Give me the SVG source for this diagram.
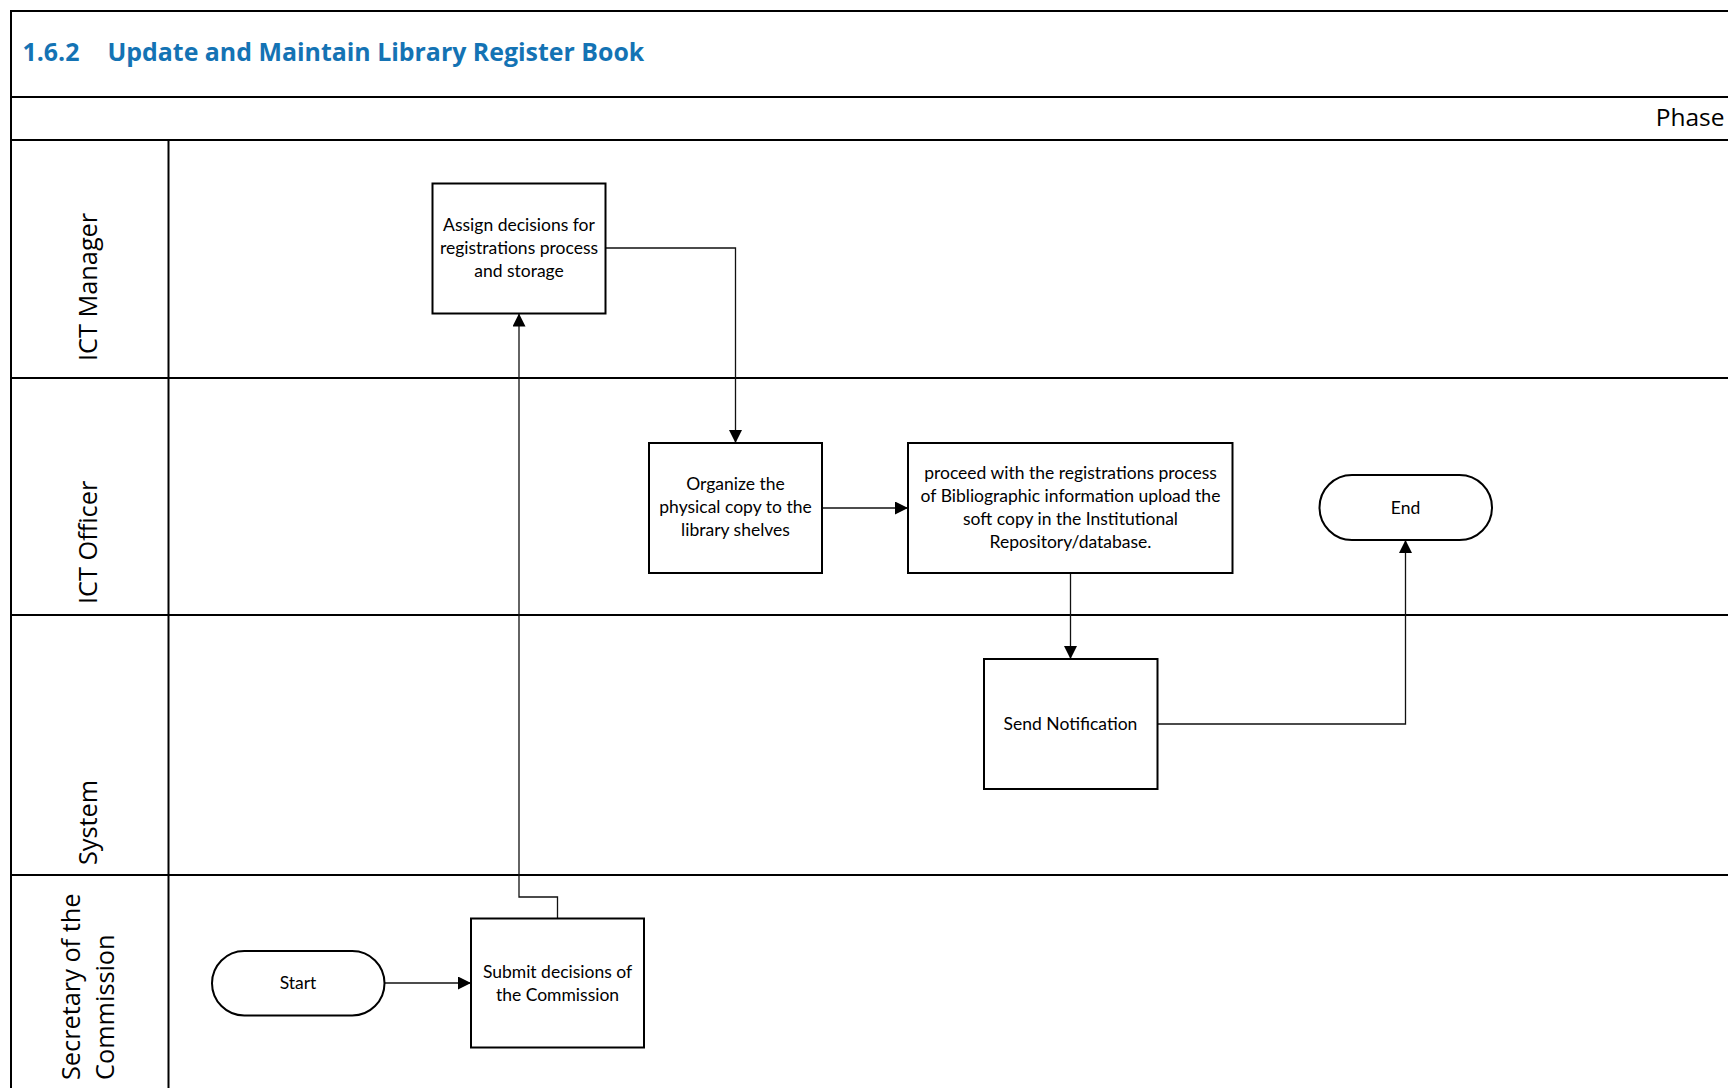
<svg xmlns="http://www.w3.org/2000/svg" width="1728" height="1088" viewBox="0 0 1728 1088">
  <style>
    .frame { stroke: #000; stroke-width: 2; fill: none; }
    .box { fill: #fff; stroke: #000; stroke-width: 2; }
    .node-text { font-family: Lato, "Open Sans", "Liberation Sans", sans-serif; font-size: 17.5px; fill: #000; text-anchor: middle; }
    .lane-text { font-family: "Open Sans", "Noto Sans", "Liberation Sans", sans-serif; font-size: 25.3px; fill: #000; }
    .title { font-family: "Open Sans", "Noto Sans", "Liberation Sans", sans-serif; font-size: 24.9px; font-weight: bold; fill: #1473B4; }
    .phase { font-family: "Open Sans", "Noto Sans", "Liberation Sans", sans-serif; font-size: 24.5px; fill: #000; text-anchor: end; }
    .conn { stroke: #111; stroke-width: 1.3; fill: none; marker-end: url(#arrow); }
  </style>
  <defs>
    <marker id="arrow" viewBox="0 0 13 13" refX="13" refY="6.5" markerWidth="13" markerHeight="13" markerUnits="userSpaceOnUse" orient="auto">
      <path d="M0,0 L13,6.5 L0,13 Z" fill="#000"/>
    </marker>
  </defs>

  <rect x="0" y="0" width="1728" height="1088" fill="#fff"/>

  <!-- Pool frame, title bar, phase bar and swimlanes -->
  <g id="frame">
    <path class="frame" d="M1728,11 H11 V1088"/>
    <path class="frame" d="M11,97 H1728"/>
    <path class="frame" d="M11,140 H1728"/>
    <path class="frame" d="M168.5,140 V1088"/>
    <path class="frame" d="M11,378 H1728"/>
    <path class="frame" d="M11,615 H1728"/>
    <path class="frame" d="M11,875 H1728"/>
    <text class="title" x="22.5" y="61">1.6.2</text>
    <text class="title" x="107.5" y="61">Update and Maintain Library Register Book</text>
    <text class="phase" x="1724.5" y="126">Phase</text>
  </g>

  <!-- Lane labels -->
  <g id="lane-ict-manager">
    <text class="lane-text" transform="translate(97,361) rotate(-90)">ICT Manager</text>
  </g>
  <g id="lane-ict-officer">
    <text class="lane-text" transform="translate(97,604) rotate(-90)">ICT Officer</text>
  </g>
  <g id="lane-system">
    <text class="lane-text" transform="translate(97,865) rotate(-90)">System</text>
  </g>
  <g id="lane-secretary">
    <text class="lane-text" transform="translate(80,1080) rotate(-90)">Secretary of the</text>
    <text class="lane-text" transform="translate(114,1080) rotate(-90)">Commission</text>
  </g>

  <!-- Connectors -->
  <g id="connectors">
    <path class="conn" d="M385,983 H471"/>
    <path class="conn" d="M557.5,918 V897 H519 V313.5"/>
    <path class="conn" d="M606,248 H735.5 V443"/>
    <path class="conn" d="M822,508 H908"/>
    <path class="conn" d="M1070.5,573 V659"/>
    <path class="conn" d="M1157.5,724 H1405.5 V540"/>
  </g>

  <!-- Nodes -->
  <g id="start">
    <rect class="box" x="212" y="951" width="172.5" height="64.5" rx="32.25"/>
    <text class="node-text" x="298" y="989">Start</text>
  </g>
  <g id="submit-decisions">
    <rect class="box" x="471" y="918.5" width="173" height="129"/>
    <text class="node-text" x="557.5" y="977.5">Submit decisions of</text>
    <text class="node-text" x="557.5" y="1000.5">the Commission</text>
  </g>
  <g id="assign-decisions">
    <rect class="box" x="432.5" y="183.5" width="173" height="130"/>
    <text class="node-text" x="519" y="231">Assign decisions for</text>
    <text class="node-text" x="519" y="254">registrations process</text>
    <text class="node-text" x="519" y="277">and storage</text>
  </g>
  <g id="organize-copy">
    <rect class="box" x="649" y="443" width="173" height="130"/>
    <text class="node-text" x="735.5" y="490">Organize the</text>
    <text class="node-text" x="735.5" y="513">physical copy to the</text>
    <text class="node-text" x="735.5" y="536">library shelves</text>
  </g>
  <g id="proceed-registration">
    <rect class="box" x="908" y="443" width="324.5" height="130"/>
    <text class="node-text" x="1070.5" y="479">proceed with the registrations process</text>
    <text class="node-text" x="1070.5" y="502">of Bibliographic information upload the</text>
    <text class="node-text" x="1070.5" y="525">soft copy in the Institutional</text>
    <text class="node-text" x="1070.5" y="548">Repository/database.</text>
  </g>
  <g id="send-notification">
    <rect class="box" x="984" y="659" width="173.5" height="130"/>
    <text class="node-text" x="1070.5" y="730">Send Notification</text>
  </g>
  <g id="end">
    <rect class="box" x="1319.5" y="475" width="172.5" height="65" rx="32.5"/>
    <text class="node-text" x="1405.5" y="513.5">End</text>
  </g>
</svg>
